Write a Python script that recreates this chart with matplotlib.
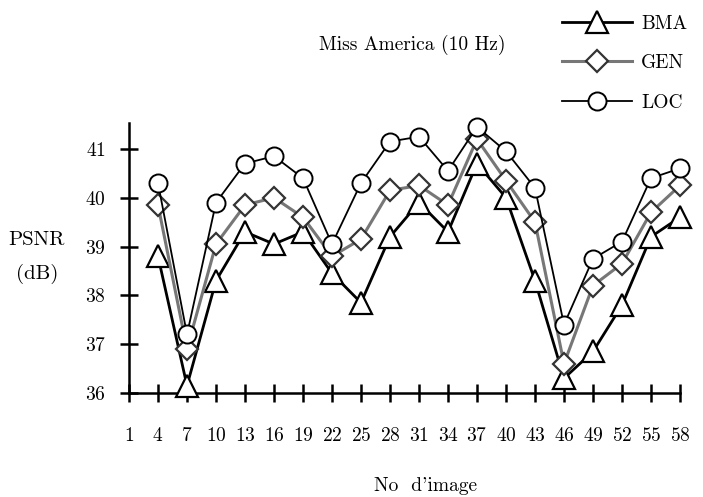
import matplotlib
matplotlib.use('Agg')
import matplotlib.pyplot as plt

# valeurs (PSNR en dB, Miss America 10 Hz)
images = [4, 7, 10, 13, 16, 19, 22, 25, 28, 31, 34, 37, 40, 43, 46, 49, 52, 55, 58]
bma = [38.8, 36.15, 38.3, 39.3, 39.05, 39.3, 38.45, 37.85, 39.2, 39.9, 39.3,
       40.7, 40.0, 38.3, 36.3, 36.85, 37.8, 39.2, 39.6]
gen = [39.85, 36.9, 39.05, 39.85, 40.0, 39.6, 38.8, 39.15, 40.15, 40.25, 39.85,
       41.2, 40.35, 39.5, 36.6, 38.2, 38.65, 39.7, 40.25]
loc = [40.3, 37.2, 39.9, 40.7, 40.85, 40.4, 39.05, 40.3, 41.15, 41.25, 40.55,
       41.45, 40.95, 40.2, 37.4, 38.75, 39.1, 40.4, 40.6]
xticks = [1, 4, 7, 10, 13, 16, 19, 22, 25, 28, 31, 34, 37, 40, 43, 46, 49, 52, 55, 58]
yticks = [36, 37, 38, 39, 40, 41]

plt.rcParams['font.family'] = ['cmr10', 'DejaVu Serif']
plt.rcParams['axes.formatter.use_mathtext'] = True
FS = 14

fig = plt.figure(figsize=(7.03, 4.97), dpi=100, facecolor='white')
ax = fig.add_axes([129 / 703, 1 - 393 / 497, (680 - 129) / 703, (393 - 123) / 497])

ax.plot(images, bma, '-^', color='black', lw=2.0, ms=16, mfc='white', mec='black',
        mew=1.6, label='BMA', zorder=3)
ax.plot(images, gen, '-D', color='#777777', lw=2.2, ms=11, mfc='white', mec='#333333',
        mew=1.6, label='GEN', zorder=4)
ax.plot(images, loc, '-o', color='black', lw=1.3, ms=13, mfc='white', mec='black',
        mew=1.4, label='LOC', zorder=5)

ax.set_xlim(1, 58)
ax.set_ylim(36, 41.53)
ax.set_xticks(xticks)
ax.set_yticks(yticks)
ax.tick_params(axis='x', direction='inout', length=13, width=1.8, labelsize=FS, pad=18)
ax.tick_params(axis='y', direction='inout', length=13, width=1.8, labelsize=FS, pad=10)
for side in ['top', 'right']:
    ax.spines[side].set_visible(False)
for side in ['left', 'bottom']:
    ax.spines[side].set_linewidth(1.8)
for l in ax.lines:
    l.set_clip_on(False)

fig.text(37 / 703, 1 - 240 / 497, 'PSNR', fontsize=15, ha='center', va='center')
fig.text(37 / 703, 1 - 274 / 497, '(dB)', fontsize=15, ha='center', va='center')
fig.text(425 / 703, 1 - 486 / 497, "No  d'image", fontsize=FS, ha='center', va='center')
fig.text(412 / 703, 1 - 45 / 497, 'Miss America (10 Hz)', fontsize=FS, ha='center', va='center')

fig.legend(loc='upper left', bbox_to_anchor=(544 / 703, 1.005), frameon=False,
           handlelength=3.6, labelspacing=1.1, fontsize=FS, handletextpad=0.5)

plt.savefig('out.png', dpi=100, facecolor='white')
plt.close()
